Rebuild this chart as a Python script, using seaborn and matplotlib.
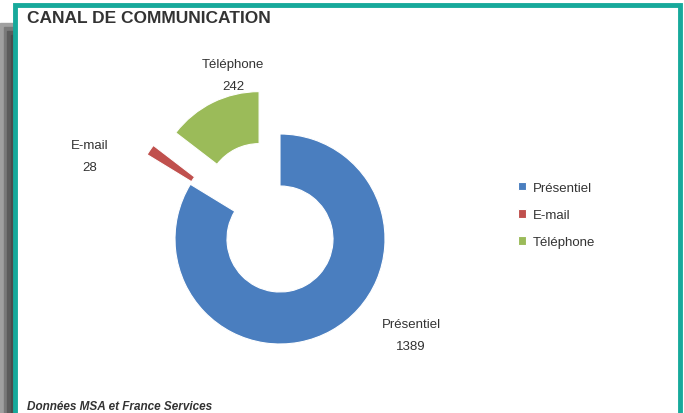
import matplotlib
matplotlib.use("Agg")
import matplotlib.pyplot as plt
import seaborn as sns
from matplotlib.patches import Rectangle

# data
canaux = ["Présentiel", "E-mail", "Téléphone"]
valeurs = [1389, 28, 242]
couleurs = ["#4A7EBF", "#C0504D", "#9BBB59"]
eclate = [0, 0.5, 0.45]

sns.set_theme(style="white")
plt.rcParams['font.family'] = ['Liberation Sans', 'DejaVu Sans']

fig = plt.figure(figsize=(6.84, 4.14), dpi=100)
ax = fig.add_axes([0, 0, 1, 1])

# grey shadow on the left + teal frame
for i, g in enumerate(["#a0a0a0", "#7a7a7a", "#5c5c5c", "#4c4c4c"]):
    ax.add_patch(Rectangle((i * 3.5, -5), 14 - i * 3.5, 395 - i * 4, color=g, zorder=0))
ax.add_patch(Rectangle((15, -10), 665, 418, facecolor="white", edgecolor="#17A99B", lw=3.5, zorder=1))

R = 105
wedges, _ = ax.pie(valeurs, colors=couleurs, explode=[e * R for e in eclate], startangle=90,
                   counterclock=False, center=(280, 174), radius=R,
                   wedgeprops=dict(width=52, edgecolor="white", linewidth=0.8), frame=True)
for w in wedges:
    w.set_zorder(2)
ax.set_xlim(0, 684)
ax.set_ylim(0, 414)
ax.set_aspect('equal')
ax.axis('off')

# data labels
pos = {"Présentiel": (411, 89), "E-mail": (90, 268), "Téléphone": (233, 349)}
for nom, v in zip(canaux, valeurs):
    x, y = pos[nom]
    ax.text(x, y, nom, ha="center", va="center", fontsize=9.5, color="#333333", zorder=3)
    ax.text(x, y - 22, str(v), ha="center", va="center", fontsize=9.5, color="#333333", zorder=3)

ax.text(27, 396, "CANAL DE COMMUNICATION", fontsize=12.5, fontweight="bold", color="#333333",
        va="center", ha="left", zorder=3)
ax.text(27, 7, "Données MSA et France Services", fontsize=8.5, fontweight="bold", style="italic",
        color="#333333", va="center", ha="left", zorder=3)

leg = ax.legend(wedges, canaux, loc="center left", bbox_to_anchor=(0.74, 0.478), frameon=False,
                fontsize=9.5, handlelength=0.6, handleheight=0.6, handletextpad=0.5, labelspacing=1.15)
for t in leg.get_texts():
    t.set_color("#333333")

fig.savefig("out.png", dpi=100)
